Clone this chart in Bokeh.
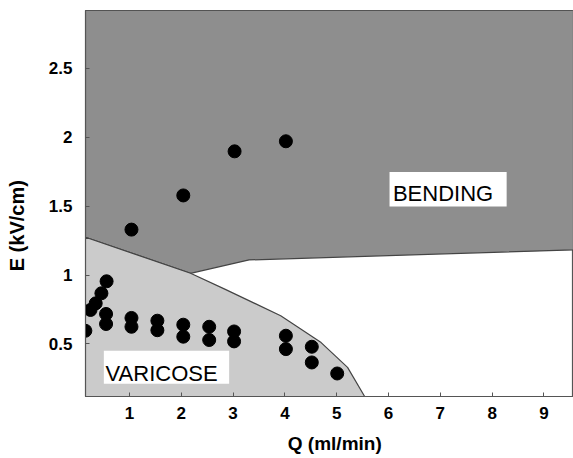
from bokeh.plotting import figure
from bokeh.models import Range1d, FixedTicker, BoxAnnotation, Label
from bokeh.embed import file_html
from bokeh.resources import INLINE

# ---- data ----
# measured points: flow rate Q (ml/min) and field E (kV/cm)
q_pts = [0.15, 0.25, 0.35, 0.46, 0.56, 0.55, 0.55, 1.04, 1.04, 1.54, 1.54,
         2.04, 2.04, 2.54, 2.54, 3.02, 3.02, 4.02, 4.02, 4.52, 4.52, 5.01,
         1.04, 2.04, 3.03, 4.02]
e_pts = [0.596, 0.747, 0.795, 0.868, 0.955, 0.718, 0.645, 0.689, 0.625, 0.669, 0.60,
         0.64, 0.553, 0.625, 0.529, 0.591, 0.519, 0.56, 0.463, 0.48, 0.366, 0.286,
         1.33, 1.578, 1.898, 1.971]

# region boundaries
q_min, q_max = 0.153, 9.57
e_min, e_max = 0.119, 2.92
bend_q = [q_min, 2.18, 3.31, q_max]
bend_e = [1.275, 1.013, 1.11, 1.183]
var_q = [q_min, 2.18, 2.83, 3.92, 4.70, 5.21, 5.54]
var_e = [1.275, 1.013, 0.90, 0.705, 0.51, 0.33, e_min]

x_ticks = [1, 2, 3, 4, 5, 6, 7, 8, 9]
x_tick_labels = ["1", "2", "3", "4", "5", "6", "7", "8", "9"]
y_ticks = [0.5, 1, 1.5, 2, 2.5]
y_tick_labels = ["0.5", "1", "1.5", "2", "2.5"]
x_title = "Q  (ml/min)"
y_title = "E  (kV/cm)"

FONT = "Liberation Sans"
NBSP = "\u00a0"

p = figure(width=573, height=458, output_backend="svg", toolbar_location=None,
           x_range=Range1d(q_min, q_max), y_range=Range1d(e_min, e_max),
           min_border_left=85, min_border_right=0, min_border_top=10,
           min_border_bottom=62)
p.xgrid.visible = False
p.ygrid.visible = False
p.background_fill_color = "white"
p.outline_line_color = "#555555"
p.outline_line_width = 1.2

# bending region (dark)
bx = [q_min] + bend_q + [q_max]
by = [e_max] + bend_e + [e_max]
p.patch(bx, by, fill_color="#8e8e8e", line_color="#444444", line_width=1.2)

# varicose region (light)
vx = var_q + [q_min]
vy = var_e + [e_min]
p.patch(vx, vy, fill_color="#cbcbcb", line_color="#444444", line_width=1.2)

# points
p.scatter(q_pts, e_pts, size=13, color="black")

# labels with white boxes
p.add_layout(BoxAnnotation(left=0.507, right=2.925, bottom=0.211, top=0.451,
                           fill_color="white", fill_alpha=1, line_color=None))
p.add_layout(BoxAnnotation(left=6.02, right=8.28, bottom=1.498, top=1.748,
                           fill_color="white", fill_alpha=1, line_color=None))
p.add_layout(Label(x=0.54, y=0.286, text="VARICOSE", text_font=FONT,
                   text_font_size="22px", text_color="black",
                   text_baseline="alphabetic"))
p.add_layout(Label(x=6.085, y=1.595, text="BENDING", text_font=FONT,
                   text_font_size="22px", text_color="black",
                   text_baseline="alphabetic"))

# axes
for ax in (p.xaxis, p.yaxis):
    ax.axis_line_color = "#555555"
    ax.major_tick_in = 4
    ax.major_tick_out = 0
    ax.minor_tick_in = 0
    ax.minor_tick_out = 0
    ax.major_tick_line_color = "#555555"
    ax.major_label_text_font = FONT
    ax.major_label_text_font_style = "bold"
    ax.major_label_text_font_size = "17px"
    ax.major_label_text_color = "black"
    ax.axis_label_text_font = FONT
    ax.axis_label_text_font_style = "bold"
    ax.axis_label_text_color = "black"
p.xaxis.axis_label_text_font_size = "19px"
p.yaxis.axis_label_text_font_size = "20px"

p.xaxis.ticker = FixedTicker(ticks=x_ticks)
p.xaxis.major_label_overrides = dict(zip(x_ticks, x_tick_labels))
p.yaxis.ticker = FixedTicker(ticks=y_ticks)
p.yaxis.major_label_overrides = dict(zip(y_ticks, y_tick_labels))
# non-breaking spaces shift the centred titles to where the original has them
p.xaxis.axis_label = NBSP * 3 + x_title
p.yaxis.axis_label = y_title + NBSP * 7
p.xaxis.major_label_standoff = 10
p.yaxis.major_label_standoff = 13
p.xaxis.axis_label_standoff = 11
p.yaxis.axis_label_standoff = 18

open("out.html", "w").write(file_html(p, INLINE))
